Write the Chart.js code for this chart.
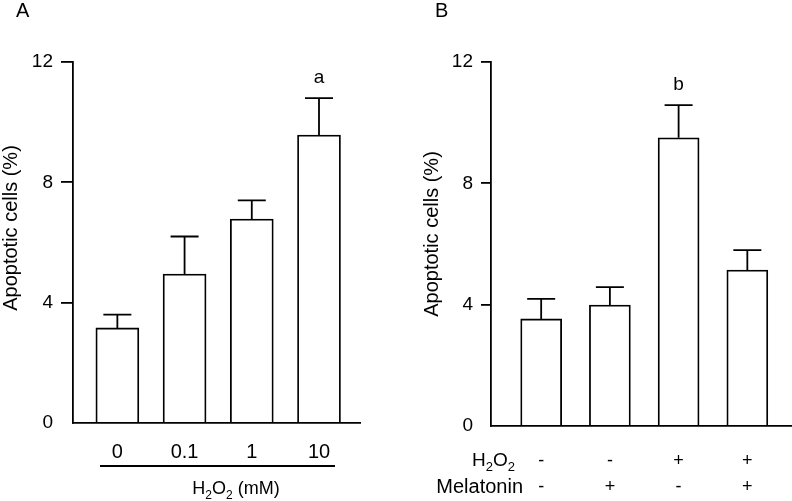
<!DOCTYPE html>
<html>
<head>
<meta charset="utf-8">
<script src="https://cdn.jsdelivr.net/npm/chart.js@4.4.1/dist/chart.umd.min.js"></script>
<style>
  html, body { margin: 0; padding: 0; background: #fff; }
  #wrap { position: relative; width: 792px; height: 501px; overflow: hidden; }
  .panel { position: absolute; top: 0; height: 501px; }
  #panelA { left: 0; width: 400px; }
  #panelB { left: 400px; width: 392px; }
</style>
</head>
<body>
<div id="wrap">
  <div class="panel" id="panelA"><canvas id="chartA"></canvas></div>
  <div class="panel" id="panelB"><canvas id="chartB"></canvas></div>
</div>
<script>
const FONT = "'Liberation Sans', Arial, Helvetica, sans-serif";

// panel A: H2O2 dose (mM)
const dosesA = ['0', '0.1', '1', '10'];
const valuesA = [3.16, 4.95, 6.78, 9.57];
const errorsA = [0.44, 1.25, 0.62, 1.23];
const marksA = ['', '', '', 'a'];

// panel B: H2O2 / melatonin
const h2o2B = ['-', '-', '+', '+'];
const melatoninB = ['-', '+', '-', '+'];
const valuesB = [3.53, 3.99, 9.50, 5.14];
const errorsB = [0.66, 0.59, 1.08, 0.66];
const marksB = ['', '', 'b', ''];

const yTicks = [0, 4, 8, 12];
const yTitle = 'Apoptotic cells (%)';

// draws text with subscript pieces, e.g. H2O2
function richText(ctx, parts, x, y, size, align) {
  const sub = Math.round(size * 0.68);
  let w = 0;
  parts.forEach(([t, s]) => {
    ctx.font = `${s ? sub : size}px ${FONT}`;
    w += ctx.measureText(t).width;
  });
  let cx = align === 'right' ? x - w : align === 'center' ? x - w / 2 : x;
  ctx.textAlign = 'left';
  ctx.textBaseline = 'alphabetic';
  parts.forEach(([t, s]) => {
    ctx.font = `${s ? sub : size}px ${FONT}`;
    ctx.fillText(t, cx, s ? y + size * 0.28 : y);
    cx += ctx.measureText(t).width;
  });
}

function yTitleText(ctx, x, y) {
  ctx.save();
  ctx.translate(x, y);
  ctx.rotate(-Math.PI / 2);
  ctx.font = `20px ${FONT}`;
  ctx.textAlign = 'center';
  ctx.textBaseline = 'middle';
  ctx.fillText(yTitle, 0, 0);
  ctx.restore();
}

const errorBars = {
  id: 'errorBars',
  afterDatasetsDraw(chart, args, opts) {
    const { ctx, scales: { x, y } } = chart;
    ctx.save();
    ctx.strokeStyle = '#000';
    ctx.fillStyle = '#000';
    ctx.lineWidth = 1.8;
    opts.values.forEach((v, i) => {
      const px = x.getPixelForValue(i);
      const y0 = y.getPixelForValue(v);
      const y1 = y.getPixelForValue(v + opts.errors[i]);
      ctx.beginPath();
      ctx.moveTo(px, y0);
      ctx.lineTo(px, y1);
      ctx.moveTo(px - opts.cap, y1);
      ctx.lineTo(px + opts.cap, y1);
      ctx.stroke();
      if (opts.marks[i]) {
        ctx.font = `19px ${FONT}`;
        ctx.textAlign = 'center';
        ctx.textBaseline = 'alphabetic';
        ctx.fillText(opts.marks[i], px, y1 - 15);
      }
    });
    if (opts.extra) opts.extra(ctx);
    ctx.restore();
  }
};

function panel(id, o) {
  return new Chart(document.getElementById(id), {
    type: 'bar',
    data: {
      datasets: [{
        data: o.values.map((v, i) => ({ x: i, y: v })),
        backgroundColor: '#fff',
        borderColor: '#000',
        borderWidth: 1.8,
        barThickness: o.barWidth
      }]
    },
    options: {
      responsive: true,
      maintainAspectRatio: false,
      animation: false,
      layout: { padding: o.padding },
      plugins: {
        legend: { display: false },
        tooltip: { enabled: false },
        errorBars: { values: o.values, errors: o.errors, marks: o.marks, cap: 14, extra: o.extra }
      },
      scales: {
        x: {
          type: 'linear',
          offset: false,
          min: o.xMin,
          max: o.xMax,
          afterBuildTicks: s => { s.ticks = o.values.map((_, i) => ({ value: i })); },
          afterFit: s => { s.height = o.xHeight; },
          grid: { display: false, drawTicks: false },
          border: { display: true, color: '#000', width: 1.8 },
          ticks: {
            color: '#000',
            font: { family: FONT, size: o.xFont, lineHeight: o.xLine },
            padding: o.tickPad,
            maxRotation: 0,
            autoSkip: false,
            callback: v => o.xLabel(v)
          }
        },
        y: {
          min: 0,
          max: 12,
          afterBuildTicks: s => { s.ticks = yTicks.map(v => ({ value: v })); },
          afterFit: s => { s.width = o.yWidth; },
          grid: {
            drawOnChartArea: false,
            drawTicks: true,
            tickLength: o.tickLen,
            lineWidth: 1.8,
            color: c => (c.tick && c.tick.value === 0 ? 'rgba(0,0,0,0)' : '#000')
          },
          border: { display: true, color: '#000', width: 1.8 },
          ticks: { color: '#000', font: { family: FONT, size: 19 }, padding: 8 },
          title: { display: false }
        }
      }
    },
    plugins: [errorBars]
  });
}

panel('chartA', {
  values: valuesA, errors: errorsA, marks: marksA,
  xMin: -0.66, xMax: 3.61, barWidth: 43,
  padding: { top: 62, right: 40, left: 0, bottom: 0 },
  xHeight: 78, yWidth: 73, tickPad: 17, tickLen: 12,
  xFont: 20, xLine: 1.2,
  xLabel: v => dosesA[v],
  extra: ctx => {
    ctx.lineWidth = 1.8;
    ctx.beginPath();
    ctx.moveTo(100, 466);
    ctx.lineTo(335, 466);
    ctx.stroke();
    richText(ctx, [['H', 0], ['2', 1], ['O', 0], ['2', 1], [' (mM)', 0]], 236, 494, 18, 'center');
    yTitleText(ctx, 11, 228);
    ctx.font = `20px ${FONT}`;
    ctx.textAlign = 'left';
    ctx.fillText('A', 16, 17);
  }
});

panel('chartB', {
  values: valuesB, errors: errorsB, marks: marksB,
  xMin: -0.73, xMax: 3.65, barWidth: 41,
  padding: { top: 62, right: 0, left: 21, bottom: 0 },
  xHeight: 75, yWidth: 70, tickPad: 22, tickLen: 10,
  xFont: 18, xLine: 1.45,
  xLabel: v => [h2o2B[v], melatoninB[v]],
  extra: ctx => {
    richText(ctx, [['H', 0], ['2', 1], ['O', 0], ['2', 1]], 115, 466, 19, 'right');
    ctx.font = `20px ${FONT}`;
    ctx.textAlign = 'right';
    ctx.fillText('Melatonin', 123, 493);
    yTitleText(ctx, 32, 234);
    ctx.textAlign = 'left';
    ctx.font = `20px ${FONT}`;
    ctx.fillText('B', 35, 17);
  }
});
</script>
</body>
</html>
